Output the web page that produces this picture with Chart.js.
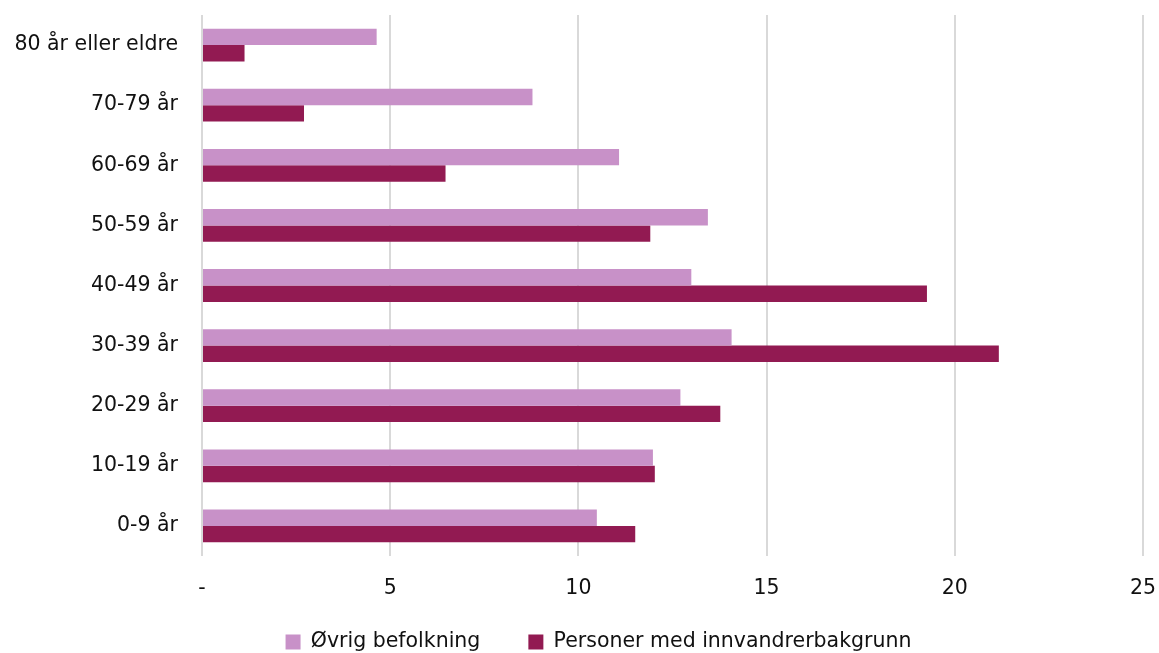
<!DOCTYPE html>
<html>
<head>
<meta charset="utf-8">
<script src="https://cdn.jsdelivr.net/npm/chart.js@4.4.1/dist/chart.umd.min.js"></script>
<style>
  html, body { margin: 0; padding: 0; background: #fff; }
  #wrap { width: 1159px; height: 653px; position: relative; }
</style>
</head>
<body>
<div id="wrap"><canvas id="chart"></canvas></div>
<script>
// age groups, top to bottom as in the picture
const ageGroups = ['80 år eller eldre', '70-79 år', '60-69 år', '50-59 år', '40-49 år',
                   '30-39 år', '20-29 år', '10-19 år', '0-9 år'];
const ovrigBefolkning = [4.64, 8.78, 11.08, 13.44, 13.0, 14.07, 12.71, 11.98, 10.49];
const innvandrerbakgrunn = [1.13, 2.71, 6.47, 11.91, 19.26, 21.17, 13.77, 12.03, 11.51];
const xTicks = [0, 5, 10, 15, 20, 25];

const FONT = 'DejaVu Sans';

// legend sits a bit lower and right of where chart.js puts it
const moveLegend = {
    id: 'moveLegend',
    afterLayout(chart) {
        const lg = chart.legend;
        const h = lg.bottom - lg.top;
        lg.top = 583.75;
        lg.bottom = lg.top + h;
        lg.left += 27;
        lg.right += 27;
    }
};

document.addEventListener('DOMContentLoaded', () => {
    const ctx = document.getElementById('chart').getContext('2d');
    new Chart(ctx, {
        type: 'bar',
        data: {
            labels: ageGroups,
            datasets: [{
                label: 'Øvrig befolkning',
                data: ovrigBefolkning,
                backgroundColor: '#C891C8',
                borderWidth: 0
            }, {
                label: 'Personer med innvandrerbakgrunn',
                data: innvandrerbakgrunn,
                backgroundColor: '#921A52',
                borderWidth: 0
            }]
        },
        options: {
            indexAxis: 'y',
            responsive: true,
            maintainAspectRatio: false,
            animation: false,
            devicePixelRatio: 1,
            categoryPercentage: 0.545,
            barPercentage: 1,
            layout: { padding: { left: 0, right: 16, top: 15, bottom: -26.1 } },
            plugins: {
                legend: {
                    position: 'bottom',
                    labels: {
                        boxWidth: 15,
                        boxHeight: 15,
                        padding: 48,
                        color: '#111',
                        font: { family: FONT, size: 20.5 }
                    }
                },
                tooltip: { enabled: false }
            },
            scales: {
                x: {
                    min: 0,
                    max: 25,
                    afterBuildTicks: (scale) => {
                        scale.ticks = xTicks.map(v => ({ value: v }));
                    },
                    grid: { color: '#d9d9d9', lineWidth: 2, drawTicks: true, tickLength: 20, tickColor: 'rgba(0,0,0,0)' },
                    border: { display: false },
                    ticks: {
                        padding: 0,
                        color: '#111',
                        font: { family: FONT, size: 20.5 },
                        callback: (v) => v === 0 ? '-' : v
                    }
                },
                y: {
                    afterFit: (scale) => { scale.width = 202; },
                    grid: { display: false, drawTicks: true, tickLength: 24 },
                    border: { display: false },
                    ticks: {
                        padding: 0,
                        color: '#111',
                        font: { family: FONT, size: 20.5 }
                    }
                }
            }
        },
        plugins: [moveLegend]
    });
});
</script>
</body>
</html>
